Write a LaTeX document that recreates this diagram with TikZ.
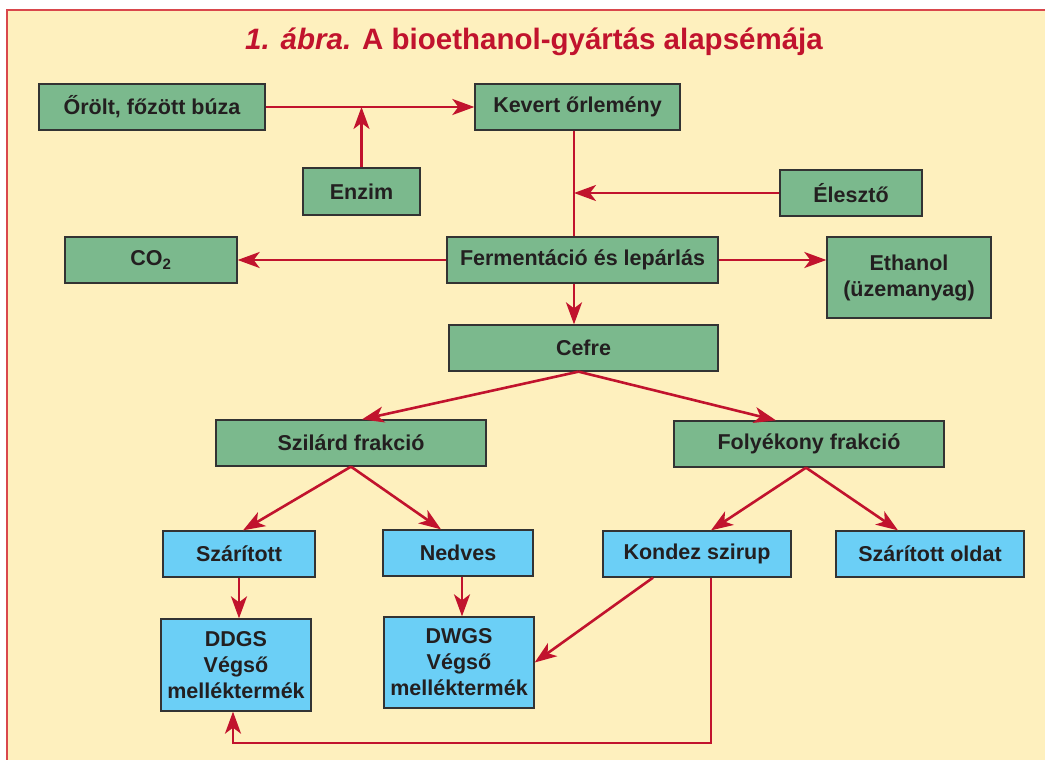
\documentclass[tikz,border=0pt]{standalone}
\usepackage{fontspec}
\setmainfont{Liberation Sans}
\usetikzlibrary{arrows.meta}
\definecolor{cream}{HTML}{FEF0BE}
\definecolor{stepgreen}{HTML}{7BB98D}
\definecolor{stepblue}{HTML}{6BCFF6}
\definecolor{flowred}{HTML}{C1132D}
\definecolor{framered}{HTML}{D9474C}
\definecolor{boxtext}{HTML}{231F20}
\begin{document}
\begin{tikzpicture}[x=1pt, y=-1pt,
  element/.style={draw=black!80, fill=stepgreen, line width=1.3pt, inner sep=0pt, align=center,
    text=boxtext, font=\fontsize{21.5}{26}\selectfont\bfseries},
  product/.style={element, fill=stepblue},
  flow/.style={draw=flowred, line width=2.6pt, -{Stealth[length=22pt, width=16pt, inset=6pt]}},
  link/.style={draw=flowred, line width=2.6pt}]
  \useasboundingbox (0,0) rectangle (1045,760);
  \fill[cream] (7,10) rectangle (1045,760);
  \draw[framered, line width=1.2pt] (7,760) -- (7,10) -- (1045,10);
  \node[text=flowred, font=\fontsize{29.5}{32}\selectfont\bfseries] (Title) at (534,42)
    {\textit{1. ábra.} A bioethanol-gyártás alapsémája};

  % first row
  \node[element, minimum width=226, minimum height=46] (Orolt) at (152,107) {Őrölt, főzött búza};
  \node[element, minimum width=205, minimum height=46] (Kevert) at (577.5,107) {Kevert őrlemény};
  \node[element, minimum width=117, minimum height=47] (Enzim) at (361.5,191.5) {Enzim};
  \node[element, minimum width=142, minimum height=46] (Eleszto) at (851,193) {Élesztő};
  \coordinate (Spine) at (574,200);

  % fermentation
  \node[element, minimum width=172, minimum height=46] (CO) at (151,260) {CO\textsubscript{2}};
  \node[element, minimum width=271, minimum height=46] (Ferm) at (582.5,260) {Fermentáció és lepárlás};
  \node[element, minimum width=164, minimum height=81] (Ethanol) at (909,277.5) {Ethanol\\(üzemanyag)};
  \node[element, minimum width=269, minimum height=46] (Cefre) at (583.5,348) {Cefre};

  % fractions
  \node[element, minimum width=270, minimum height=46] (Szilard) at (351,443) {Szilárd frakció};
  \node[element, minimum width=270, minimum height=46] (Folyekony) at (809,444) {Folyékony frakció};
  \node[product, minimum width=152, minimum height=46] (Szaritott) at (239,554) {Szárított};
  \node[product, minimum width=150, minimum height=46] (Nedves) at (458,553) {Nedves};
  \node[product, minimum width=188, minimum height=46] (Kondez) at (697,554) {Kondez szirup};
  \node[product, minimum width=188, minimum height=46] (Oldat) at (930,554) {Szárított oldat};
  \node[product, minimum width=150, minimum height=92] (DDGS) at (236,665) {DDGS\\Végső\\melléktermék};
  \node[product, minimum width=150, minimum height=91] (DWGS) at (459,662.5) {DWGS\\Végső\\melléktermék};
  \coordinate (Loop) at (711,743);

  % connectors
  \draw[flow] (Orolt.east) -- (Kevert.west);
  \draw[flow] (Enzim.north) -- (Enzim.north |- Orolt.east);
  \draw[link] (Kevert.south -| Spine) -- (Ferm.north -| Spine);
  \draw[flow] (Eleszto.west) -- (Eleszto.west -| Spine);
  \draw[flow] (Ferm.west) -- (Ferm.west -| CO.east);
  \draw[flow] (Ferm.east) -- (Ferm.east -| Ethanol.west);
  \draw[flow] (Ferm.south -| Spine) -- (Cefre.north -| Spine);
  \draw[flow] ([xshift=-5]Cefre.south) -- ([xshift=11]Szilard.north);
  \draw[flow] ([xshift=-5]Cefre.south) -- ([xshift=-33]Folyekony.north);
  \draw[flow] (Szilard.south) -- ([xshift=4]Szaritott.north);
  \draw[flow] (Szilard.south) -- ([xshift=-17]Nedves.north);
  \draw[flow] ([xshift=-3]Folyekony.south) -- ([xshift=14]Kondez.north);
  \draw[flow] ([xshift=-3]Folyekony.south) -- ([xshift=-32]Oldat.north);
  \draw[flow] (Szaritott.south) -- (Szaritott.south |- DDGS.north);
  \draw[flow] ([xshift=4]Nedves.south) -- ([xshift=4]Nedves.south |- DWGS.north);
  \draw[flow] ([xshift=-44]Kondez.south) -- (DWGS.east);
  \draw[flow] (Kondez.south -| Loop) -- (Loop) -| ([xshift=-3]DDGS.south);
\end{tikzpicture}
\end{document}
